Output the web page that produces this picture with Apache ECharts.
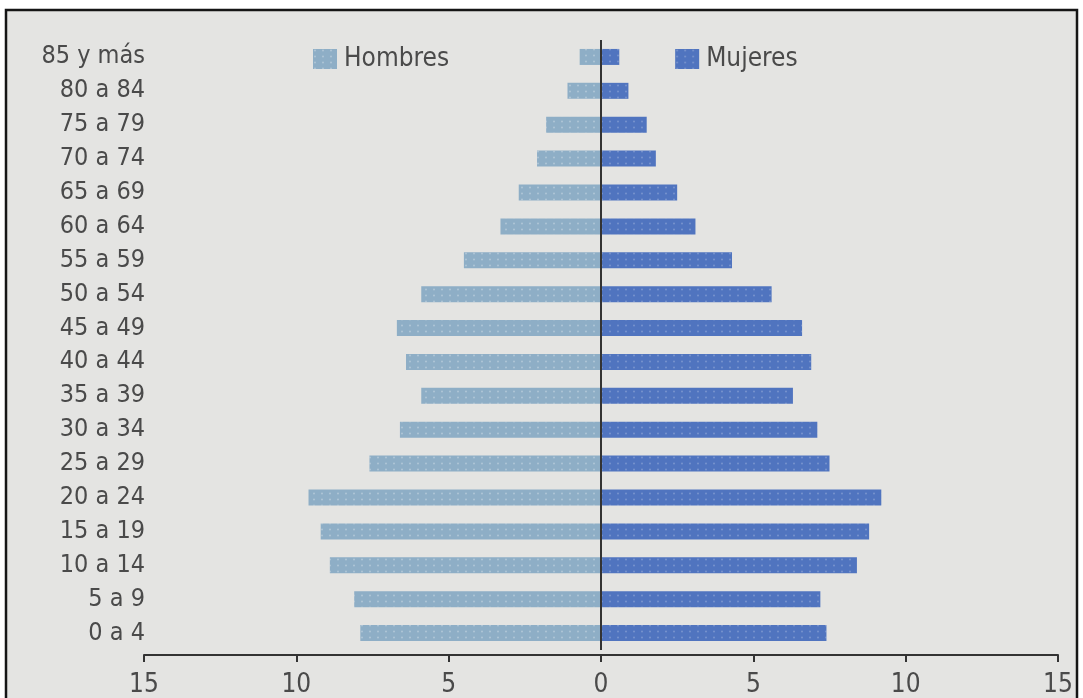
<!DOCTYPE html>
<html>
<head>
<meta charset="utf-8">
<script src="https://cdn.jsdelivr.net/npm/echarts@6/dist/echarts.min.js"></script>
<style>
html,body{margin:0;padding:0;background:#fff;}
#c{width:1083px;height:698px;}
</style>
</head>
<body>
<div id="c"></div>
<script>
const categories = ['85 y más','80 a 84','75 a 79','70 a 74','65 a 69','60 a 64','55 a 59','50 a 54','45 a 49','40 a 44','35 a 39','30 a 34','25 a 29','20 a 24','15 a 19','10 a 14','5 a 9','0 a 4'];
const hombres = [0.7,1.1,1.8,2.1,2.7,3.3,4.5,5.9,6.7,6.4,5.9,6.6,7.6,9.6,9.2,8.9,8.1,7.9];
const mujeres = [0.6,0.9,1.5,1.8,2.5,3.1,4.3,5.6,6.6,6.9,6.3,7.1,7.5,9.2,8.8,8.4,7.2,7.4];
const xTicks = {min:-15, max:15, interval:5};

const FONT = '"DejaVu Sans Condensed","Liberation Sans Narrow",sans-serif';
const TXT = '#4a4a4a';
const chart = echarts.init(document.getElementById('c'), null, {renderer:'canvas'});
const decalH = {symbol:'circle', symbolSize:0.7, dashArrayX:4, dashArrayY:3, color:'rgba(255,255,255,0.28)'};
const decalM = {symbol:'circle', symbolSize:0.7, dashArrayX:4, dashArrayY:3, color:'rgba(255,255,255,0.22)'};
chart.setOption({
  backgroundColor:'#ffffff',
  animation:false,
  graphic:[{type:'rect', z:-100, silent:true, shape:{x:6,y:10,width:1071,height:700}, style:{fill:'#e4e4e2', stroke:'#151515', lineWidth:2.5}}],
  legend:{
    left:308, top:41, itemWidth:24, itemHeight:20, itemGap:226, icon:'rect',
    textStyle:{fontFamily:FONT, fontSize:26, color:TXT, padding:[0,0,0,2]},
    data:['Hombres','Mujeres']
  },
  grid:{left:144, right:25, top:40, height:610, containLabel:false},
  xAxis:{
    type:'value', min:xTicks.min, max:xTicks.max, interval:xTicks.interval, offset:5,
    axisLine:{show:true, lineStyle:{color:'#333', width:2}},
    axisTick:{show:true, length:7, lineStyle:{color:'#333', width:2}},
    splitLine:{show:false},
    axisLabel:{fontFamily:FONT, fontSize:26, color:TXT, margin:17, formatter:v=>Math.abs(v)}
  },
  yAxis:{
    type:'category', data:categories, inverse:true,
    axisLine:{show:false, onZero:false}, axisTick:{show:false},
    axisLabel:{fontFamily:FONT, fontSize:25, color:TXT, margin:-1, interval:0}
  },
  series:[
    {name:'Hombres', type:'bar', stack:'p', barWidth:16, data:hombres.map(v=>-v),
     itemStyle:{color:'#8eaec6', decal:decalH},
     markLine:{silent:true, symbol:'none', label:{show:false}, lineStyle:{color:'#333', width:2, type:'solid'}, data:[{xAxis:0}]}},
    {name:'Mujeres', type:'bar', stack:'p', barWidth:16, data:mujeres,
     itemStyle:{color:'#5074bf', decal:decalM}}
  ]
});
</script>
</body>
</html>
